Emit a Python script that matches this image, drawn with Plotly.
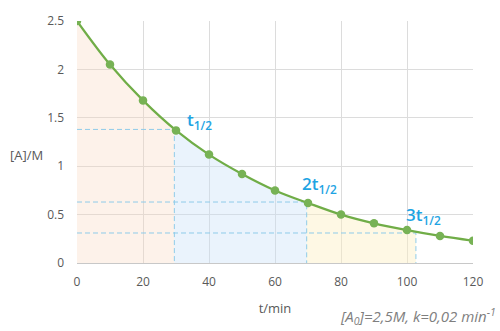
import numpy as np
import plotly.graph_objects as go

# Concentration of A over time (first-order decay)
t_min = [0, 10, 20, 30, 40, 50, 60, 70, 80, 90, 100, 110, 120]
conc_A = [2.5, 2.05, 1.68, 1.37, 1.12, 0.92, 0.75, 0.62, 0.50, 0.41, 0.34, 0.28, 0.23]

# Successive half-lives: time and the concentration reached
half_t = [29.5, 69.6, 102.7]
half_c = [1.38, 0.63, 0.31]
half_labels = ["t<sub>1/2</sub>", "2t<sub>1/2</sub>", "3t<sub>1/2</sub>"]

x_ticks = [0, 20, 40, 60, 80, 100, 120]
y_ticks = [0, 0.5, 1, 1.5, 2, 2.5]

band_colors = ["rgba(248,214,190,0.32)", "rgba(200,224,248,0.38)", "rgba(252,238,190,0.42)"]
guide_color = "#8fcbe9"
label_color = "#1ea4e3"
green = "#70ad47"

fig = go.Figure()

# Shaded bands under the curve, one per half-life interval
t_arr = np.array(t_min, dtype=float)
c_arr = np.array(conc_A, dtype=float)
edges = [t_min[0]] + half_t
for i in range(len(half_t)):
    a, b = edges[i], edges[i + 1]
    xf = np.linspace(a, b, 60)
    yf = np.interp(xf, t_arr, c_arr)
    poly_x = [a] + list(xf) + [b, a]
    poly_y = [0] + list(yf) + [0, 0]
    fig.add_trace(go.Scatter(x=poly_x, y=poly_y, mode="lines", fill="toself",
                             fillcolor=band_colors[i], line=dict(width=0),
                             hoverinfo="skip", showlegend=False))

# Dashed guides to each half-life point
for tx, cy in zip(half_t, half_c):
    fig.add_trace(go.Scatter(x=[0, tx, tx], y=[cy, cy, 0], mode="lines",
                             line=dict(color=guide_color, width=1, dash="5px,3px"),
                             hoverinfo="skip", showlegend=False))

# Concentration curve
fig.add_trace(go.Scatter(x=t_min, y=conc_A, mode="lines+markers",
                         line=dict(color=green, width=2.2, shape="spline"),
                         marker=dict(color="#77b255", size=8.5),
                         showlegend=False))

# Half-life labels placed just above-right of each half-life point
annotations = []
for txt, tx, cy, dx, dy in zip(half_labels, half_t, half_c,
                               [3.3, -2.0, -3.7], [0.09, 0.18, 0.18]):
    annotations.append(dict(x=tx + dx, y=cy + dy, xref="x", yref="y", text=txt,
                            showarrow=False, xanchor="left", yanchor="middle",
                            font=dict(family="Open Sans", size=17, color=label_color,
                                      weight=600)))

annotations += [
    dict(xref="paper", yref="paper", x=-0.08, y=0.445, text="[A]/M", showarrow=False,
         xanchor="right", yanchor="middle",
         font=dict(family="Open Sans", size=13, color="#595959")),
    dict(xref="paper", yref="paper", x=1.064, y=-0.222,
         text="<i>[A<sub>0</sub>]=2,5M, k=0,02 min<sup>-1</sup></i>",
         showarrow=False, xanchor="right", yanchor="middle",
         font=dict(family="Open Sans", size=15, color="#7f7f7f")),
]

fig.update_layout(
    width=500, height=331,
    margin=dict(l=77, r=27, t=16, b=68),
    paper_bgcolor="white", plot_bgcolor="white",
    font=dict(family="Open Sans", size=12, color="#595959"),
    annotations=annotations,
    xaxis=dict(range=[0, 120], tickvals=x_ticks, showgrid=True, gridcolor="#dcdcdc",
               gridwidth=1, zeroline=False, showline=True, linecolor="#c8c8c8",
               ticks="", ticklabelstandoff=8,
               title=dict(text="t/min", font=dict(size=13, color="#595959"), standoff=14)),
    yaxis=dict(range=[0, 2.5], tickvals=y_ticks, showgrid=True, gridcolor="#dcdcdc",
               gridwidth=1, zeroline=False, showline=False, ticks="", ticklabelstandoff=12),
)

fig.write_html("out.html")
